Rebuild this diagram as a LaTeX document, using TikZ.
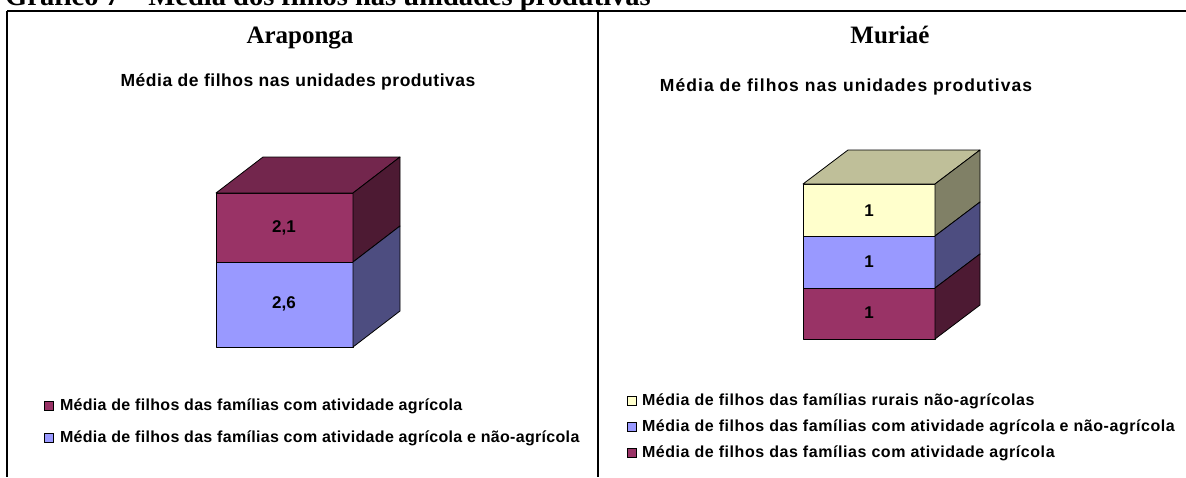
\documentclass[tikz,border=0pt]{standalone}
\usepackage{fontspec}
\setmainfont{Liberation Serif}
\setsansfont{Liberation Sans}
\newfontfamily\subfonteA[LetterSpace=3]{Liberation Sans}
\newfontfamily\subfonteM[LetterSpace=6]{Liberation Sans}
\newfontfamily\legfonteA[LetterSpace=2]{Liberation Sans}
\newfontfamily\legfonteM[LetterSpace=3.5]{Liberation Sans}
\usepackage{tikz}
\usetikzlibrary{positioning}
\definecolor{vinho}{HTML}{993366}
\definecolor{vinhotopo}{HTML}{73264D}
\definecolor{vinholado}{HTML}{4D1A33}
\definecolor{lilas}{HTML}{9999FF}
\definecolor{lilaslado}{HTML}{4D4D80}
\definecolor{creme}{HTML}{FFFFCC}
\definecolor{cremetopo}{HTML}{BFBF99}
\definecolor{cremelado}{HTML}{808066}
\tikzset{
    face/.style={draw=black, line width=0.8pt, line join=round},
    borda/.style={line width=1.5pt},
    cidade/.style={font=\rmfamily\bfseries\fontsize{25}{28}\selectfont, anchor=base, inner sep=0pt},
    subtitulo/.style={font=\bfseries\fontsize{17.5}{20}\selectfont, anchor=base, inner sep=0pt},
    valor/.style={font=\sffamily\bfseries\fontsize{17}{19}\selectfont, inner sep=0pt},
    legenda/.style={font=\bfseries\fontsize{16}{18}\selectfont, anchor=west, inner sep=0pt},
    marca/.style={draw=black, line width=0.6pt, minimum size=9pt, inner sep=0pt},
}

\begin{document}
\begin{tikzpicture}[x=1pt, y=-1pt]
    \useasboundingbox (0,0) rectangle (1186,477);

    \node[anchor=base west, inner sep=0pt, font=\rmfamily\bfseries\fontsize{28.5}{30}\selectfont] (grafico) at (5,5) {Gráfico 7 -- Média dos filhos nas unidades produtivas};

    \draw[borda] (7,11) -- (1186,11);
    \draw[borda] (7,11) -- (7,477);
    \draw[borda] (598,11) -- (598,477);

    % Araponga
    \node[cidade] (araponga) at (300,43) {Araponga};
    \node[subtitulo] (subA) at (298,86) {\subfonteA Média de filhos nas unidades produtivas};

    \filldraw[face, fill=lilas] (216,262) rectangle (353,347);
    \filldraw[face, fill=vinho] (216,193) rectangle (353,262);
    \filldraw[face, fill=vinhotopo] (216,193) -- (263,157) -- (400,157) -- (353,193) -- cycle;
    \filldraw[face, fill=vinholado] (353,193) -- (400,157) -- (400,226) -- (353,262) -- cycle;
    \filldraw[face, fill=lilaslado] (353,262) -- (400,226) -- (400,311) -- (353,347) -- cycle;

    \node[valor] (vA1) at (284,228) {2,1};
    \node[valor] (vA2) at (284,304) {2,6};

    \node[marca, fill=vinho] (mA1) at (49,406) {};
    \node[legenda, right=6pt of mA1] (tA1) {\legfonteA Média de filhos das famílias com atividade agrícola};
    \node[marca, fill=lilas] (mA2) at (49,438) {};
    \node[legenda, right=6pt of mA2] (tA2) {\legfonteA Média de filhos das famílias com atividade agrícola e não-agrícola};

    % Muriae
    \node[cidade] (muriae) at (890,43) {Muriaé};
    \node[subtitulo] (subM) at (846,91) {\subfonteM Média de filhos nas unidades produtivas};

    \filldraw[face, fill=vinho] (803,288) rectangle (935,339);
    \filldraw[face, fill=lilas] (803,236) rectangle (935,288);
    \filldraw[face, fill=creme] (803,184) rectangle (935,236);
    \filldraw[face, fill=cremetopo] (803,184) -- (848,150) -- (980,150) -- (935,184) -- cycle;
    \filldraw[face, fill=cremelado] (935,184) -- (980,150) -- (980,202) -- (935,236) -- cycle;
    \filldraw[face, fill=lilaslado] (935,236) -- (980,202) -- (980,254) -- (935,288) -- cycle;
    \filldraw[face, fill=vinholado] (935,288) -- (980,254) -- (980,305) -- (935,339) -- cycle;

    \node[valor] (vM1) at (869,211) {1};
    \node[valor] (vM2) at (869,262) {1};
    \node[valor] (vM3) at (869,313) {1};

    \node[marca, fill=creme] (mM1) at (632,401) {};
    \node[legenda, right=5pt of mM1] (tM1) {\legfonteM Média de filhos das famílias rurais não-agrícolas};
    \node[marca, fill=lilas] (mM2) at (632,427) {};
    \node[legenda, right=5pt of mM2] (tM2) {\legfonteM Média de filhos das famílias com atividade agrícola e não-agrícola};
    \node[marca, fill=vinho] (mM3) at (632,453) {};
    \node[legenda, right=5pt of mM3] (tM3) {\legfonteM Média de filhos das famílias com atividade agrícola};
\end{tikzpicture}
\end{document}
